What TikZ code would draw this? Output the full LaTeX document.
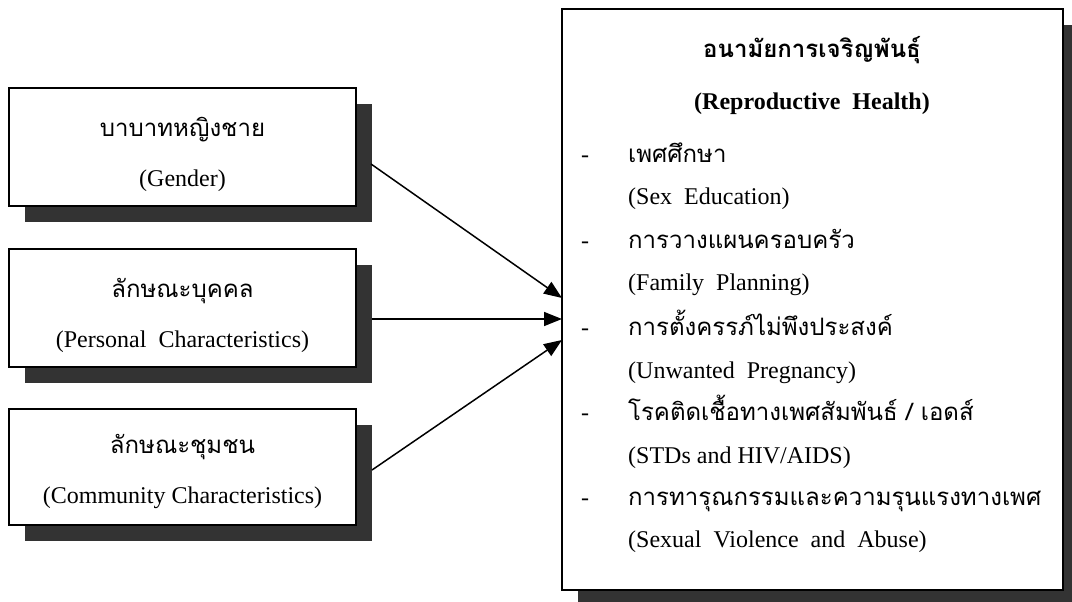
\documentclass[tikz,border=0pt]{standalone}
\usepackage{fontspec}
\setmainfont{Liberation Serif}
\newfontfamily\thai[Script=Thai]{Loma}
\usetikzlibrary{shadows,arrows.meta}
\begin{document}
\begin{tikzpicture}[x=1pt,y=-1pt,
  box/.style={draw,line width=1.6pt,fill=white,inner sep=0pt,
     drop shadow={shadow xshift=16pt,shadow yshift=-16pt,fill=black!80,opacity=1}},
  th/.style={font=\thai\fontsize{24}{28}\selectfont,inner sep=0pt,anchor=base},
  en/.style={font=\fontsize{24}{28}\selectfont,inner sep=0pt,anchor=base},
  thl/.style={th,anchor=base west},
  enl/.style={en,anchor=base west},
  arr/.style={line width=1.5pt,-{Triangle[length=18pt,width=14pt]}}]
\useasboundingbox (0,0) rectangle (1072,602);
\clip (0,0) rectangle (1072,602);
% left boxes
\node[box,minimum width=347pt,minimum height=118pt] (b1) at (182.5,147) {};
\node[box,minimum width=347pt,minimum height=118pt] (b2) at (182.5,308) {};
\node[box,minimum width=347pt,minimum height=116pt] (b3) at (182.5,467) {};
% right box
\node[box,minimum width=501pt,minimum height=581pt] (rh) at (812.5,299.5) {};
% left texts
\node[th] (t1a) at (182.5,136) {บาบาทหญิงชาย};
\node[en] (t1b) at (182.5,186) {(Gender)};
\node[th] (t2a) at (182.5,297) {ลักษณะบุคคล};
\node[en] (t2b) at (182.5,347) {(Personal~~Characteristics)};
\node[th] (t3a) at (182.5,453) {ลักษณะชุมชน};
\node[en] (t3b) at (182.5,503) {(Community Characteristics)};
% right texts
\node[th,font=\thai\bfseries\fontsize{24}{28}\selectfont] (h1) at (812,58) {อนามัยการเจริญพันธุ์};
\node[en,font=\bfseries\fontsize{24}{28}\selectfont] (h2) at (812,110) {(Reproductive~~Health)};
\node[en] (d1) at (585,162) {-};
\node[thl] (i1a) at (628,162) {เพศศึกษา};
\node[enl] (i1b) at (628,204) {(Sex~~Education)};
\node[en] (d2) at (585,248) {-};
\node[thl] (i2a) at (628,248) {การวางแผนครอบครัว};
\node[enl] (i2b) at (628,290) {(Family~~Planning)};
\node[en] (d3) at (585,335) {-};
\node[thl] (i3a) at (628,335) {การตั้งครรภ์ไม่พึงประสงค์};
\node[enl] (i3b) at (628,378) {(Unwanted~~Pregnancy)};
\node[en] (d4) at (585,420) {-};
\node[thl] (i4a) at (628,420) {โรคติดเชื้อทางเพศสัมพันธ์ / เอดส์};
\node[enl] (i4b) at (628,463) {(STDs and HIV/AIDS)};
\node[en] (d5) at (585,505) {-};
\node[thl] (i5a) at (628,505) {การทารุณกรรมและความรุนแรงทางเพศ};
\node[enl] (i5b) at (628,547) {(Sexual~~Violence~~and~~Abuse)};
% arrows
\coordinate (s1) at (371,164);
\coordinate (s2) at (372,319);
\coordinate (s3) at (372,470);
\coordinate (e1) at (562,298);
\coordinate (e2) at (562,319);
\coordinate (e3) at (562,340);
\draw[arr] (s1) -- (e1);
\draw[arr] (s2) -- (e2);
\draw[arr] (s3) -- (e3);
\end{tikzpicture}
\end{document}
